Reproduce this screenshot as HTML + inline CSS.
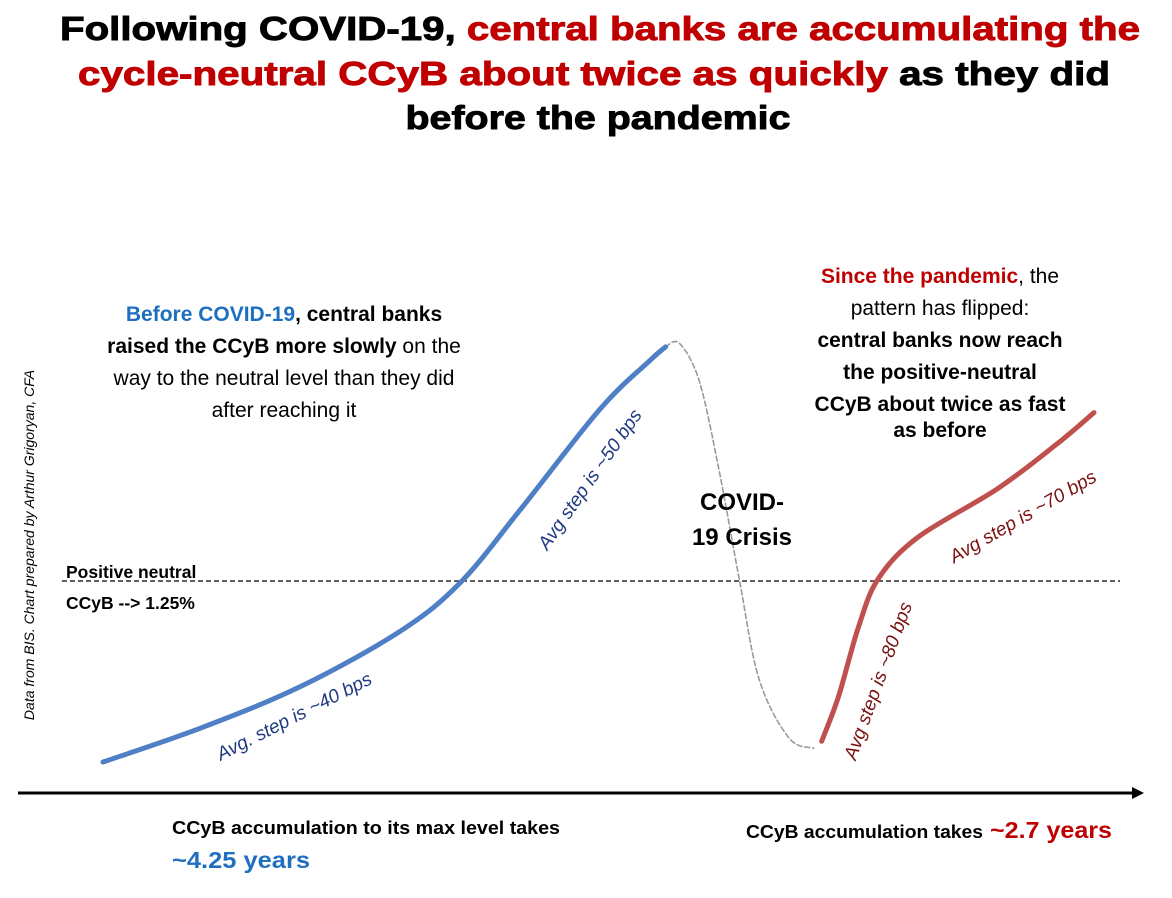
<!DOCTYPE html>
<html><head><meta charset="utf-8"><style>
body{margin:0;background:#fff;}
svg{display:block;font-family:"Liberation Sans",Arial,sans-serif;}
</style></head><body>
<svg width="1172" height="898" viewBox="0 0 1172 898">
<g font-weight="900" font-size="33" text-anchor="middle" stroke-width="0.9">
<text x="600" y="40" textLength="1080" lengthAdjust="spacingAndGlyphs" fill="#000" stroke="#000"><tspan>Following COVID-19, </tspan><tspan fill="#c00000" stroke="#c00000">central banks are accumulating the</tspan></text>
<text x="594" y="85" textLength="1032" lengthAdjust="spacingAndGlyphs" fill="#000" stroke="#000"><tspan fill="#c00000" stroke="#c00000">cycle-neutral CCyB about twice as quickly</tspan><tspan> as they did</tspan></text>
<text x="598" y="129" textLength="385" lengthAdjust="spacingAndGlyphs" fill="#000" stroke="#000">before the pandemic</text>
</g>
<text transform="translate(34,545) rotate(-90)" text-anchor="middle" font-size="14" font-style="italic" fill="#000">Data from BIS. Chart prepared by Arthur Grigoryan, CFA</text>
<line x1="62" y1="581" x2="1120" y2="581" stroke="#000" stroke-width="1.3" stroke-dasharray="5,3"/>
<text x="66" y="578" font-size="17.5" font-weight="bold">Positive neutral</text>
<text x="66" y="609" font-size="17.5" font-weight="bold">CCyB --&gt; 1.25%</text>
<g>
<line x1="18" y1="793" x2="1132" y2="793" stroke="#000" stroke-width="3"/>
<polygon points="1132,787 1144,793 1132,799" fill="#000"/>
</g>
<g id="curves"></g>
<g font-size="21">
<text x="284" y="321" text-anchor="middle"><tspan fill="#1f6fc0" font-weight="bold">Before COVID-19</tspan><tspan font-weight="bold">, central banks</tspan></text>
<text x="284" y="353" text-anchor="middle"><tspan font-weight="bold">raised the CCyB more slowly</tspan><tspan> on the</tspan></text>
<text x="284" y="385" text-anchor="middle">way to the neutral level than they did</text>
<text x="284" y="417" text-anchor="middle">after reaching it</text>
<text x="940" y="283" text-anchor="middle"><tspan fill="#c00000" font-weight="bold">Since the pandemic</tspan><tspan>, the</tspan></text>
<text x="940" y="315" text-anchor="middle">pattern has flipped:</text>
<text x="940" y="347" text-anchor="middle" font-weight="bold">central banks now reach</text>
<text x="940" y="379" text-anchor="middle" font-weight="bold">the positive-neutral</text>
<text x="940" y="411" text-anchor="middle" font-weight="bold">CCyB about twice as fast</text>
<text x="940" y="437" text-anchor="middle" font-weight="bold">as before</text>
<text x="742" y="510" text-anchor="middle" font-weight="bold" font-size="24">COVID-</text>
<text x="742" y="545" text-anchor="middle" font-weight="bold" font-size="24">19 Crisis</text>
<text transform="translate(297,722) rotate(-27)" text-anchor="middle" font-size="19" font-style="italic" fill="#1f3a80">Avg. step is ~40 bps</text>
<text transform="translate(595,483) rotate(-55)" text-anchor="middle" font-size="19" font-style="italic" fill="#1f3a80">Avg step is ~50 bps</text>
<text transform="translate(884,683) rotate(-70)" text-anchor="middle" font-size="19" font-style="italic" fill="#7a1010">Avg step is ~80 bps</text>
<text transform="translate(1026,522) rotate(-30)" text-anchor="middle" font-size="19" font-style="italic" fill="#7a1010">Avg step is ~70 bps</text>
<text x="172" y="834" font-size="18" font-weight="bold" textLength="388" lengthAdjust="spacingAndGlyphs">CCyB accumulation to its max level takes</text>
<text x="172" y="868" font-size="23" font-weight="bold" fill="#1f6fc0" textLength="138" lengthAdjust="spacingAndGlyphs">~4.25 years</text>
<text x="746" y="838" font-size="18" font-weight="bold" textLength="237" lengthAdjust="spacingAndGlyphs">CCyB accumulation takes</text>
<text x="990" y="838" font-size="23" font-weight="bold" fill="#c00000" textLength="122" lengthAdjust="spacingAndGlyphs">~2.7 years</text>
</g>
</svg>
<script>
// time (0..100) and CCyB level (0..100 arbitrary units; neutral ≈ 58)
const preX = [0, 10, 20, 30, 36, 42, 50, 55, 56.6];
const preY = [6, 16, 28, 44, 58, 79, 108, 122, 126];
const crisisX = [56.6, 58, 60, 62, 64, 66, 69, 71.5];
const crisisY = [126, 127, 116, 90, 59, 30, 13, 10];
const postX = [72.3, 74, 76, 78, 82, 90, 96, 99.7];
const postY = [12, 25, 45, 59, 71, 85, 98, 107];
const xs = v => 103 + v * 9.94;
const ys = v => 782.8 - v * 3.46;
function pathD(X, Y) {
  let p = X.map((x, i) => [xs(x), ys(Y[i])]);
  let d = 'M' + p[0][0] + ',' + p[0][1];
  for (let i = 0; i < p.length - 1; i++) {
    const p0 = p[i - 1] || p[i], p1 = p[i], p2 = p[i + 1], p3 = p[i + 2] || p2;
    const c1x = p1[0] + (p2[0] - p0[0]) / 6, c1y = p1[1] + (p2[1] - p0[1]) / 6;
    const c2x = p2[0] - (p3[0] - p1[0]) / 6, c2y = p2[1] - (p3[1] - p1[1]) / 6;
    d += 'C' + c1x + ',' + c1y + ' ' + c2x + ',' + c2y + ' ' + p2[0] + ',' + p2[1];
  }
  return d;
}
const g = document.getElementById('curves');
function add(X, Y, color, w, dash, name) {
  const el = document.createElementNS('http://www.w3.org/2000/svg', 'path');
  el.setAttribute('d', pathD(X, Y));
  el.setAttribute('fill', 'none');
  el.setAttribute('stroke', color);
  el.setAttribute('stroke-width', w);
  el.setAttribute('stroke-linecap', 'round');
  if (dash) el.setAttribute('stroke-dasharray', dash);
  
  
  g.appendChild(el);
}
add(crisisX, crisisY, '#9a9a9a', 1.6, '5,3', 'covid-crisis-line');
add(preX, preY, '#4f7fc4', 5, null, 'pre-covid-line');
add(postX, postY, '#c0504d', 5, null, 'post-covid-line');
</script>
</body></html>
